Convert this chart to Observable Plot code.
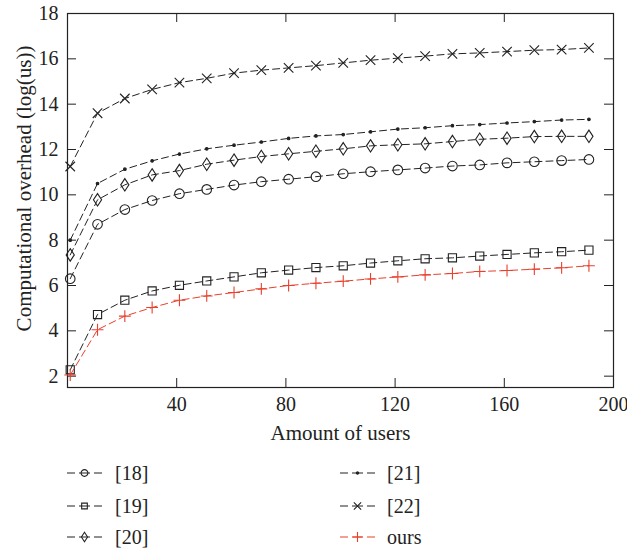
<!DOCTYPE html>
<html><head><meta charset="utf-8">
<script src="https://cdn.jsdelivr.net/npm/d3@7"></script>
<script src="https://cdn.jsdelivr.net/npm/@observablehq/plot@0.6"></script>
<style>
body{margin:0;background:#fff;font-family:"Liberation Serif",serif;}
#wrap{position:relative;width:627px;height:551px;overflow:hidden;}
#legend{position:absolute;left:0;top:450px;width:627px;height:101px;}
.item{position:absolute;height:24px;font-size:20px;color:#222;}
.item svg{display:block;position:absolute;left:0;top:0;}
.item span{position:absolute;top:0;line-height:24px;white-space:nowrap;}
</style></head><body><div id="wrap"><div id="chart"></div><div id="legend"></div></div>
<script>
// ---- data ----
const users = [1, 11, 21, 31, 41, 51, 61, 71, 81, 91, 101, 111, 121, 131, 141, 151, 161, 171, 181, 191];
const ref18 = [6.3, 8.7, 9.35, 9.75, 10.05, 10.24, 10.43, 10.58, 10.69, 10.8, 10.93, 11.02, 11.1, 11.18, 11.27, 11.32, 11.41, 11.46, 11.51, 11.56];
const ref19 = [2.28, 4.72, 5.35, 5.76, 6.01, 6.2, 6.38, 6.56, 6.68, 6.79, 6.87, 6.99, 7.09, 7.18, 7.22, 7.3, 7.37, 7.44, 7.49, 7.56];
const ref20 = [7.35, 9.78, 10.44, 10.88, 11.07, 11.35, 11.53, 11.69, 11.81, 11.92, 12.03, 12.16, 12.21, 12.25, 12.35, 12.45, 12.5, 12.57, 12.58, 12.58];
const ref21 = [8.0, 10.5, 11.13, 11.5, 11.8, 12.03, 12.19, 12.33, 12.49, 12.6, 12.66, 12.78, 12.9, 12.96, 13.05, 13.1, 13.17, 13.23, 13.3, 13.33];
const ref22 = [11.25, 13.6, 14.25, 14.65, 14.95, 15.14, 15.37, 15.5, 15.6, 15.7, 15.82, 15.94, 16.03, 16.12, 16.22, 16.26, 16.32, 16.38, 16.41, 16.48];
const ours  = [2.05, 4.05, 4.65, 5.03, 5.35, 5.54, 5.69, 5.85, 6.0, 6.1, 6.19, 6.29, 6.38, 6.47, 6.53, 6.62, 6.66, 6.72, 6.78, 6.87];
const seriesNames = ["[18]", "[19]", "[20]", "[21]", "[22]", "ours"];
const xTicks = [40, 80, 120, 160, 200];
const yTicks = [2, 4, 6, 8, 10, 12, 14, 16, 18];
const xLabel = "Amount of users";
const yLabel = "Computational overhead (log(us))";

// ---- styles ----
const black = "#222";
const red = "#e8402d";
const narrowDiamond = {
  draw(ctx, size) {
    const r = Math.sqrt(size / Math.PI);
    const h = r * 1.3, w = r * 0.85;
    ctx.moveTo(0, -h); ctx.lineTo(w, 0); ctx.lineTo(0, h); ctx.lineTo(-w, 0); ctx.closePath();
  }
};
const styles = [
  {symbol: "circle", r: 4.8, color: black, fill: "none"},
  {symbol: "square", r: 4.6, color: black, fill: "none"},
  {symbol: narrowDiamond, r: 4.8, color: black, fill: "none"},
  {symbol: "circle", r: 1.3, color: black, fill: black},
  {symbol: "times", r: 4.4, color: black, fill: "none"},
  {symbol: "plus", r: 3.9, color: red, fill: "none"}
];
const values = [ref18, ref19, ref20, ref21, ref22, ours];
const series = seriesNames.map((name, i) => ({
  name, ...styles[i],
  rows: users.map((u, j) => ({x: u, y: values[i][j], s: name}))
}));

// ---- chart ----
const W = 627, H = 450, mL = 67, mR = 14, mT = 13, mB = 63;
const plotW = W - mL - mR, plotH = H - mT - mB;
const marks = [
  Plot.frame({stroke: black, strokeWidth: 1.2}),
  Plot.tickY(yTicks, {y: d => d, insetRight: plotW - 9, stroke: black}),
  Plot.tickY(yTicks, {y: d => d, insetLeft: plotW - 9, stroke: black}),
  Plot.tickX(xTicks, {x: d => d, insetBottom: plotH - 9, stroke: black}),
  Plot.tickX(xTicks, {x: d => d, insetTop: plotH - 9, stroke: black}),
  Plot.axisX({ticks: xTicks, tickSize: 0, tickPadding: 9, label: null, fontSize: 20}),
  Plot.axisY({ticks: yTicks, tickSize: 0, tickPadding: 9, label: null, fontSize: 20}),
  Plot.text([yLabel], {frameAnchor: "left", textAnchor: "middle", lineAnchor: "middle", dx: -43, dy: -12, rotate: -90, fontSize: 21, fill: black}),
  Plot.text([xLabel], {frameAnchor: "bottom", textAnchor: "middle", lineAnchor: "middle", dy: 46, fontSize: 21, fill: black})
];
for (const s of series) {
  marks.push(Plot.line(s.rows, {x: "x", y: "y", stroke: s.color, strokeWidth: 1, strokeDasharray: "7,4"}));
  marks.push(Plot.dot(s.rows, {x: "x", y: "y", symbol: s.symbol, r: s.r, stroke: s.color, fill: s.fill, strokeWidth: 1.1}));
}
const chart = Plot.plot({
  width: W, height: H, marginLeft: mL, marginRight: mR, marginTop: mT, marginBottom: mB,
  style: {fontFamily: "'Liberation Serif', serif", fontSize: "20px", background: "#fff", color: black, overflow: "visible"},
  x: {domain: [0, 200]},
  y: {domain: [1.5, 18]},
  marks
});
document.getElementById("chart").appendChild(chart);

// ---- legend ----
const legend = d3.select("#legend");
const pos = [
  {icon: 67, text: 115, top: 23}, {icon: 67, text: 115, top: 56}, {icon: 67, text: 115, top: 87},
  {icon: 340, text: 387, top: 23}, {icon: 340, text: 387, top: 56}, {icon: 340, text: 387, top: 87}
];
const legendR = [3.4, 3.2, 3.6, 1.1, 3.4, 3.3];
series.forEach((s, i) => {
  const p = pos[i];
  const it = legend.append("div").attr("class", "item").style("left", p.icon + "px").style("top", (p.top - 12) + "px");
  const svg = it.append("svg").attr("width", 36).attr("height", 24);
  svg.append("line").attr("x1", 0).attr("x2", 35).attr("y1", 12).attr("y2", 12)
    .attr("stroke", s.color).attr("stroke-width", 1.2).attr("stroke-dasharray", "8,4,11,4,8");
  const sym = typeof s.symbol === "string"
    ? ({circle: d3.symbolCircle, square: d3.symbolSquare, times: d3.symbolTimes, plus: d3.symbolPlus})[s.symbol]
    : s.symbol;
  svg.append("path").attr("transform", "translate(17.5,12)")
    .attr("d", d3.symbol(sym, legendR[i] * legendR[i] * Math.PI)())
    .attr("fill", s.fill === "none" ? "none" : s.fill).attr("stroke", s.color).attr("stroke-width", 1.1);
  it.append("span").style("left", (p.text - p.icon) + "px").text(s.name);
});
</script></body></html>
